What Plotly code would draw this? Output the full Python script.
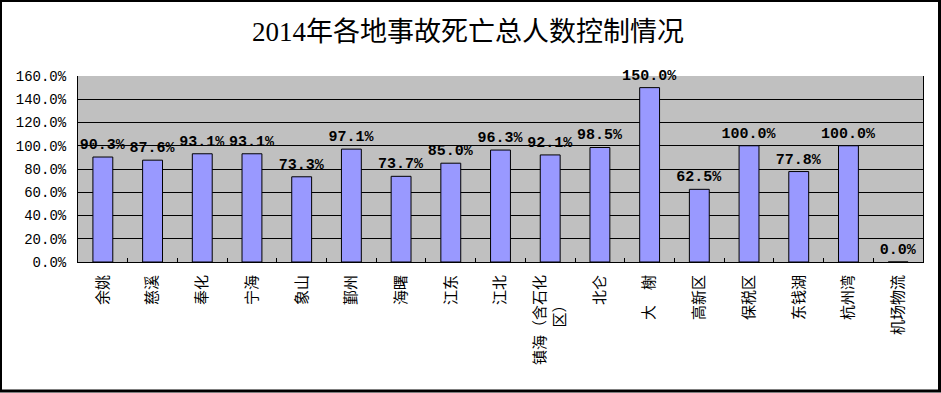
import plotly.graph_objects as go

categories = ["余姚", "慈溪", "奉化", "宁海", "象山", "鄞州", "海曙", "江东", "江北",
              "镇海（含石化区）", "北仑", "大 榭", "高新区", "保税区", "东钱湖", "杭州湾", "机场物流"]
tick_labels = ["余姚", "慈溪", "奉化", "宁海", "象山", "鄞州", "海曙", "江东", "江北",
               "镇海（含石化<br>区）\u3000\u3000", "北仑", "大\u3000榭", "高新区", "保税区", "东钱湖", "杭州湾", "机场物流"]
control_rate = [0.903, 0.876, 0.931, 0.931, 0.733, 0.971, 0.737, 0.850, 0.963,
                0.921, 0.985, 1.500, 0.625, 1.000, 0.778, 1.000, 0.000]
y_ticks = [0, 0.2, 0.4, 0.6, 0.8, 1.0, 1.2, 1.4, 1.6]

W, H = 941, 393
ML, MR, MT, MB = 78, 18, 76, 131
PW, PH = W - ML - MR, H - MT - MB

fig = go.Figure()
fig.add_trace(go.Bar(
    x=categories, y=control_rate,
    marker=dict(color="#9999FF", line=dict(color="black", width=1)),
    texttemplate="%{y:.1%}", textposition="outside", cliponaxis=False,
    constraintext="none",
    textfont=dict(family="Liberation Mono", size=15, color="black", weight="bold"),
    hoverinfo="skip",
))

def px_x(p):
    return (p - ML) / PW

def px_y(p):
    return (H - MB - p) / PH

fig.update_layout(
    width=W, height=H,
    margin=dict(l=ML, r=MR, t=MT, b=MB),
    paper_bgcolor="white", plot_bgcolor="#C0C0C0",
    bargap=0.6, showlegend=False,
    title=dict(text="2014年各地事故死亡总人数控制情况",
               x=468 / W, xref="container", xanchor="center",
               y=1 - 32 / H, yref="container", yanchor="middle",
               font=dict(family="Liberation Serif, Noto Sans CJK SC", size=27, color="black")),
    xaxis=dict(tickvals=categories, ticktext=tick_labels, tickangle=-90,
               tickfont=dict(family="Noto Sans CJK SC", size=15, color="black"),
               ticks="inside", ticklen=4, tickcolor="black", tickson="boundaries",
               showline=True, linecolor="black", linewidth=1, showgrid=False,
               ticklabelstandoff=6),
    yaxis=dict(range=[0, 1.6], tickvals=y_ticks, tickformat=".1%",
               tickfont=dict(family="Liberation Mono", size=14, color="black"),
               showgrid=True, gridcolor="black", gridwidth=1,
               showline=True, linecolor="black", linewidth=1, mirror=True,
               zeroline=False, ticks="", ticklabelstandoff=8),
    shapes=[dict(type="rect", xref="paper", yref="paper",
                 x0=px_x(0.5), x1=px_x(939.5), y0=px_y(391), y1=px_y(0.5),
                 line=dict(color="black", width=3), fillcolor="rgba(0,0,0,0)",
                 layer="above")],
)

fig.write_html("out.html", config={"displayModeBar": False},
               post_script="document.body.style.margin='0';document.body.style.overflow='hidden';")
